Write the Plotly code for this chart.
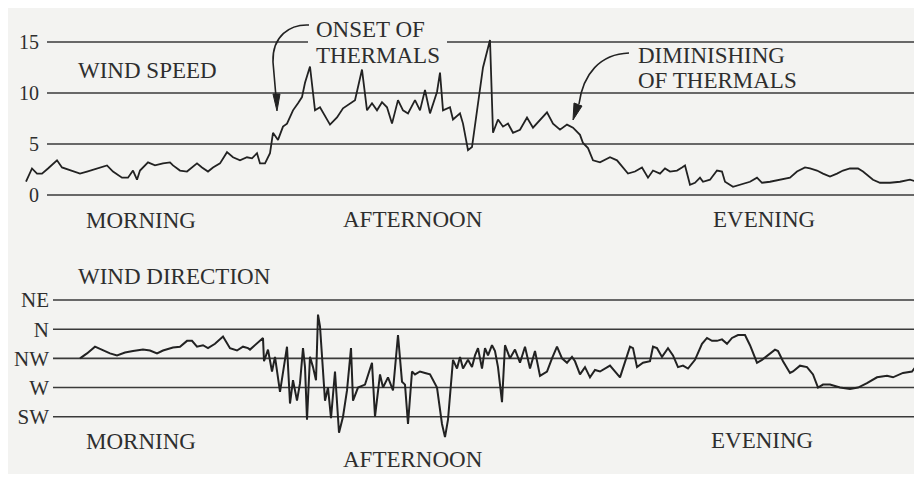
import plotly.graph_objects as go

# wind speed record (minutes from start of trace, speed)
speed_min = [26, 32, 37, 42, 48, 57, 62, 70, 80, 87, 100, 107, 113, 122, 128, 133, 137, 140,
             148, 155, 163, 170, 173, 180, 187, 197, 202, 208, 213, 220, 227, 233, 240, 247,
             252, 257, 260, 265, 270, 273, 278, 283, 287, 290, 293, 298, 302, 305, 310, 315,
             320, 330, 337, 343, 350, 355, 362, 367, 372, 377, 382, 387, 392, 398, 403, 408,
             415, 420, 425, 430, 437, 440, 443, 450, 453, 460, 463, 468, 472, 477, 483, 490,
             493, 498, 503, 508, 513, 520, 527, 533, 540, 547, 553, 560, 567, 573, 580, 583,
             588, 593, 600, 607, 610, 617, 623, 628, 635, 642, 648, 653, 660, 665, 670, 677,
             682, 685, 690, 695, 700, 703, 710, 717, 722, 725, 733, 740, 750, 757, 762, 770,
             780, 790, 797, 805, 810, 817, 823, 830, 837, 843, 850, 858, 863, 873, 880, 890,
             900, 910, 917, 922]
speed = [1.3, 2.6, 2.1, 2.1, 2.6, 3.4, 2.7, 2.4, 2.1, 2.3, 2.7, 2.9, 2.3, 1.7, 1.7, 2.4, 1.5, 2.4,
         3.2, 2.9, 3.1, 3.2, 2.9, 2.4, 2.3, 3.1, 2.7, 2.3, 2.7, 3.1, 4.2, 3.7, 3.4, 3.7,
         3.6, 4.1, 3.1, 3.1, 4.1, 6.1, 5.4, 6.7, 7.0, 7.6, 8.3, 9.0, 9.6, 11.0, 12.6, 8.3,
         8.6, 6.9, 7.6, 8.5, 9.0, 9.3, 12.3, 8.3, 9.0, 8.3, 9.1, 8.6, 7.0, 9.3, 8.3, 8.0,
         9.3, 8.3, 10.3, 8.0, 10.1, 12.0, 8.3, 8.6, 7.4, 8.0, 7.0, 4.4, 4.7, 8.3, 12.5, 15.2,
         6.1, 7.4, 6.7, 7.0, 6.1, 6.4, 7.6, 6.6, 7.4, 8.1, 7.0, 6.4, 6.9, 6.6, 5.9, 5.1,
         4.6, 3.4, 3.2, 3.6, 3.7, 3.4, 2.7, 2.1, 2.3, 2.7, 1.7, 2.4, 2.1, 2.6, 2.3, 2.4,
         2.7, 2.9, 1.0, 1.2, 1.7, 1.3, 1.5, 2.4, 2.3, 1.3, 0.8, 1.0, 1.3, 1.7, 1.2, 1.3,
         1.5, 1.7, 2.3, 2.7, 2.6, 2.4, 2.1, 1.8, 2.1, 2.4, 2.6, 2.6, 2.3, 1.5, 1.2, 1.2,
         1.3, 1.5, 1.3, 1.5]

# wind direction record (0 = SW ... 4 = NE)
dir_min = [80, 87, 95, 102, 110, 117, 125, 133, 143, 150, 157, 163, 173, 180, 187, 192, 197, 203,
           208, 215, 223, 230, 237, 243, 248, 250, 260, 263, 264, 268, 272, 275, 280, 283, 287,
           290, 293, 297, 300, 303, 305, 307, 310, 313, 316, 318, 320, 325, 328, 331, 335, 339,
           343, 347, 351, 353, 358, 365, 370, 372, 375, 380, 383, 388, 393, 398, 402, 405, 408,
           412, 415, 420, 425, 430, 437, 442, 445, 448, 453, 457, 460, 463, 468, 472, 475, 478,
           482, 485, 488, 492, 495, 498, 502, 505, 510, 515, 520, 525, 530, 535, 540, 547, 552,
           557, 562, 567, 572, 575, 580, 585, 590, 595, 600, 605, 610, 620, 625, 630, 633, 637,
           643, 650, 653, 657, 662, 668, 673, 678, 683, 688, 695, 702, 707, 712, 717, 722, 727,
           732, 738, 745, 750, 757, 762, 768, 775, 778, 783, 790, 793, 800, 807, 813, 818, 823,
           830, 840, 850, 858, 867, 877, 887, 893, 903, 912, 922]
direction = [2.0, 2.17, 2.4, 2.3, 2.17, 2.1, 2.2, 2.25, 2.3, 2.27, 2.17, 2.27, 2.37, 2.4, 2.6, 2.6, 2.4, 2.45,
             2.35, 2.5, 2.75, 2.35, 2.27, 2.4, 2.35, 2.3, 2.6, 2.7, 1.9, 2.3, 1.55, 2.05, 0.85, 1.45, 2.4,
             0.45, 1.25, 0.55, 1.15, 2.35, 1.7, -0.1, 2.05, 1.7, 1.25, 3.5, 3.1, 0.55, 1.0, -0.05, 1.55, -0.55,
             0.0, 0.9, 2.35, 0.55, 1.0, 1.1, 1.6, 1.85, 0.0, 1.45, 1.0, 1.35, 0.9, 2.8, 1.2, 1.1, -0.25,
             1.55, 1.45, 1.55, 1.5, 1.45, 1.0, -0.25, -0.7, -0.1, 1.95, 1.65, 2.05, 1.65, 1.95, 1.7, 2.1, 2.35,
             1.65, 2.35, 2.1, 2.45, 2.25, 1.7, 0.5, 2.45, 2.0, 2.3, 1.85, 2.4, 1.65, 2.25, 1.4, 1.55, 2.0,
             2.4, 2.0, 1.85, 2.05, 1.9, 1.45, 1.7, 1.35, 1.6, 1.55, 1.65, 1.75, 1.35, 1.9, 2.4, 2.35, 1.7,
             1.85, 1.9, 2.4, 2.35, 2.05, 2.35, 2.1, 1.7, 1.75, 1.65, 1.95, 2.5, 2.7, 2.6, 2.6, 2.65, 2.5,
             2.7, 2.8, 2.8, 2.45, 1.85, 1.95, 2.1, 2.3, 2.25, 1.9, 1.5, 1.55, 1.75, 1.7, 1.45, 1.0, 1.1,
             1.1, 1.0, 0.95, 1.0, 1.15, 1.35, 1.4, 1.35, 1.5, 1.55, 2.0]

speed_ticks = [0, 5, 10, 15]
dir_ticks = [0, 1, 2, 3, 4]
dir_labels = ["SW", "W", "NW", "N", "NE"]

# the page body adds an 8px white border on top/left, like the scan's edge
OFF = 8
W, H = 914, 466          # figure size; page spans 8..922 x 8..474
PAGE_W, PAGE_BOT = OFF + W, OFF + H

def fx(x):
    return (x - OFF) / W

def fy(y):
    return (PAGE_BOT - y) / H

INK = "#222222"
TXT = "#2e2e2e"
FONT = "Liberation Serif"

# page-pixel anchors of the two scales
sp_px = (195.0, 10.2)      # y of 0, px per unit
dr_px = (416.7, 29.17)     # y of SW, px per step
sp_range = [(sp_px[0] - PAGE_BOT) / sp_px[1], (sp_px[0] - OFF) / sp_px[1]]
dr_range = [(dr_px[0] - PAGE_BOT) / dr_px[1], (dr_px[0] - OFF) / dr_px[1]]

fig = go.Figure()
fig.add_trace(go.Scatter(x=speed_min, y=speed, mode="lines", yaxis="y",
                         line=dict(color=INK, width=1.8), hoverinfo="skip"))
fig.add_trace(go.Scatter(x=dir_min, y=direction, mode="lines", yaxis="y2",
                         line=dict(color=INK, width=2.0), hoverinfo="skip"))

shapes = []
for v in speed_ticks:
    if v == 15:
        segs = [(47, 308), (447, PAGE_W)]
    else:
        segs = [(47, PAGE_W)]
    for a, b in segs:
        shapes.append(dict(type="line", xref="paper", yref="y", x0=fx(a), x1=fx(b), y0=v, y1=v,
                           line=dict(color="#3a3a3a", width=1.6), layer="below"))
for v in dir_ticks:
    shapes.append(dict(type="line", xref="paper", yref="y2", x0=fx(53), x1=fx(PAGE_W), y0=v, y1=v,
                       line=dict(color="#3a3a3a", width=1.6), layer="below"))

def path(pts, cmd):
    out = []
    i = 0
    for c in cmd:
        if c in "ML":
            x, y = pts[i]; i += 1
            out.append("%s %.5f,%.5f" % (c, fx(x), fy(y)))
        elif c == "C":
            s = " ".join("%.5f,%.5f" % (fx(x), fy(y)) for x, y in pts[i:i + 3]); i += 3
            out.append("C " + s)
        elif c == "Z":
            out.append("Z")
    return " ".join(out)

# curved arrows
shapes.append(dict(type="path", xref="paper", yref="paper",
                   path=path([(309, 25), (290, 24), (272, 36), (273, 62), (276, 97)], "MCL"),
                   line=dict(color=INK, width=1.6)))
shapes.append(dict(type="path", xref="paper", yref="paper",
                   path=path([(277, 111), (273, 94), (280, 94)], "MLLZ"),
                   fillcolor=INK, line=dict(color=INK, width=1)))
shapes.append(dict(type="path", xref="paper", yref="paper",
                   path=path([(629, 53), (600, 54), (583, 74), (579, 104)], "MC"),
                   line=dict(color=INK, width=1.6)))
shapes.append(dict(type="path", xref="paper", yref="paper",
                   path=path([(573, 120), (574, 103), (582, 106)], "MLLZ"),
                   fillcolor=INK, line=dict(color=INK, width=1)))

def label(text, x, y, size=23, anchor="left"):
    return dict(text=text, x=fx(x), y=fy(y), xref="paper", yref="paper", showarrow=False,
                xanchor=anchor, yanchor="middle", font=dict(family=FONT, size=size, color=TXT))

annotations = [
    label("WIND SPEED", 76, 70),
    label("MORNING", 84, 220),
    label("AFTERNOON", 341, 219),
    label("EVENING", 711, 219),
    label("WIND DIRECTION", 76, 276),
    label("MORNING", 84, 441),
    label("AFTERNOON", 341, 459),
    label("EVENING", 709, 440),
    label("ONSET OF", 314, 30),
    label("THERMALS", 314, 55),
    label("DIMINISHING", 636, 55),
    label("OF THERMALS", 636, 81),
]

fig.update_layout(
    width=W, height=H,
    margin=dict(l=0, r=0, t=0, b=0),
    paper_bgcolor="white",
    plot_bgcolor="#f3f3f1",
    showlegend=False,
    xaxis=dict(range=[OFF, PAGE_W], visible=False, domain=[0, 1]),
    yaxis=dict(range=sp_range, anchor="free", position=fx(39), tickvals=speed_ticks,
               ticktext=[str(v) for v in speed_ticks], showgrid=False, zeroline=False,
               showline=False, ticks="", automargin=False,
               tickfont=dict(family=FONT, size=20, color=TXT)),
    yaxis2=dict(range=dr_range, anchor="free", position=fx(49), overlaying="y",
                tickvals=dir_ticks, ticktext=dir_labels, showgrid=False, zeroline=False,
                showline=False, ticks="", automargin=False, side="left",
                tickfont=dict(family=FONT, size=21, color=TXT)),
    shapes=shapes,
    annotations=annotations,
)

fig.write_html("out.html")
